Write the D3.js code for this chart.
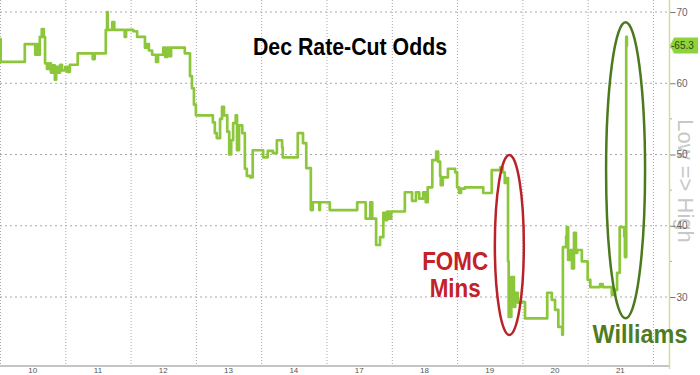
<!DOCTYPE html>
<html>
<head>
<meta charset="utf-8">
<script src="https://cdn.jsdelivr.net/npm/d3@7/dist/d3.min.js"></script>
<style>
  html, body { margin: 0; padding: 0; background: #fff; }
  svg { display: block; }
</style>
</head>
<body>
<svg id="chart" width="700" height="375"></svg>
<script>
// ---- data ----
const dayLabels = ["10", "11", "12", "13", "14", "17", "18", "19", "20", "21"];
const yTicks = [30, 40, 50, 60, 70];
const yMinorTicks = [25, 35, 45, 55, 65];
// time in trading days from the start of Nov 10 (step-after series)
const times = [0.00, 0.01, 0.38, 0.54, 0.57, 0.60, 0.61, 0.64, 0.67, 0.69, 0.72, 0.75, 0.78, 0.81, 0.84, 0.86, 0.89, 0.92, 0.95,
  1.00, 1.03, 1.07, 1.19, 1.42, 1.45, 1.62, 1.64, 1.65, 1.72, 1.75, 1.91, 1.93,
  2.04, 2.10, 2.22, 2.25, 2.28, 2.33, 2.39, 2.42, 2.50, 2.53, 2.56, 2.59, 2.62, 2.83, 2.91, 2.94, 2.97,
  3.00, 3.26, 3.29, 3.32, 3.37, 3.40, 3.43, 3.48, 3.51, 3.54, 3.57, 3.61, 3.63, 3.66, 3.71, 3.75, 3.78, 3.83, 3.87,
  4.03, 4.10, 4.18, 4.24, 4.32, 4.33, 4.56, 4.64, 4.69, 4.76, 4.79, 4.89, 4.90,
  5.05, 5.47, 5.60, 5.67, 5.70, 5.76, 5.82, 5.87, 5.90, 5.93, 5.96, 5.99,
  6.20, 6.31, 6.37, 6.42, 6.48, 6.52, 6.55, 6.62, 6.68, 6.71, 6.74, 6.75, 6.78, 6.86, 6.97,
  7.00, 7.03, 7.06, 7.12, 7.40, 7.53, 7.66, 7.70, 7.73, 7.76, 7.78, 7.79, 7.83, 7.87, 7.89, 7.93, 7.99,
  8.04, 8.38, 8.45, 8.50, 8.55, 8.61, 8.62, 8.67, 8.68, 8.70, 8.73, 8.76, 8.79, 8.82, 8.84, 8.91,
  9.00, 9.04, 9.19, 9.23, 9.37, 9.42, 9.45, 9.49, 9.56, 9.57, 9.59, 9.60, 9.62];
const odds = [66.2, 63.0, 65.5, 64.0, 65.5, 64.0, 66.5, 67.6, 66.5, 62.8, 62.0, 62.8, 61.5, 62.5, 60.5, 62.3, 61.5, 62.6, 61.8,
  62.3, 61.6, 62.6, 64.2, 63.4, 64.2, 67.5, 70.0, 67.5, 68.6, 67.5, 66.5, 67.5,
  67.3, 66.5, 65.0, 65.5, 64.6, 64.0, 63.0, 64.0, 65.0, 63.7, 65.0, 63.8, 65.0, 64.2, 61.0, 59.3, 57.0,
  55.5, 54.5, 53.0, 52.3, 55.0, 56.7, 55.5, 53.2, 50.0, 52.0, 54.4, 55.5, 50.6, 54.1, 53.0, 48.0, 47.0, 46.8, 50.6,
  49.6, 50.5, 50.2, 52.0, 51.0, 49.6, 53.0, 51.6, 48.1, 42.2, 43.3, 42.2, 43.3,
  42.2, 43.3, 41.0, 43.3, 41.0, 37.3, 38.4, 41.8, 40.8, 42.0, 41.0, 42.0,
  44.7, 43.5, 44.7, 43.8, 44.7, 43.3, 45.4, 49.2, 50.4, 49.0, 47.0, 45.7, 46.8, 48.0, 47.5,
  45.4, 44.6, 45.2, 45.4, 44.6, 47.8, 48.2, 47.5, 46.0, 46.7, 35.0, 27.2, 32.8, 28.6, 30.6, 29.2, 29.3,
  27.0, 30.6, 29.6, 28.2, 25.8, 24.7, 37.0, 38.5, 39.8, 35.2, 36.6, 34.0, 39.0, 36.2, 36.6, 35.0,
  32.4, 31.4, 31.8, 31.4, 30.3, 31.0, 33.4, 39.8, 38.5, 35.6, 66.5, 65.3, 65.3];
const lastValue = 65.3;
const titleText = "Dec Rate-Cut Odds";
const axisTitle = "Low => High";
const fomcLines = ["FOMC", "Mins"];
const williamsText = "Williams";

// ---- layout ----
const svg = d3.select("#chart");
const axisX = 669, baseY = 366;
const x = d3.scaleLinear().domain([0, 10.245]).range([0, axisX]);
const y = d3.scaleLinear().domain([30, 70]).range([297, 12]);

// grid
const grid = svg.append("g");
grid.selectAll("line.h").data(yTicks).join("line")
  .attr("x1", 0).attr("x2", axisX)
  .attr("y1", d => y(d)).attr("y2", d => y(d))
  .attr("stroke", "#a8a8a8").attr("stroke-width", 1).attr("stroke-dasharray", "2,3");
grid.selectAll("line.v").data(d3.range(0, 11)).join("line")
  .attr("x1", d => x(d) + 0.5).attr("x2", d => x(d) + 0.5)
  .attr("y1", 0).attr("y2", baseY)
  .attr("stroke", "#a8a8a8").attr("stroke-width", 1).attr("stroke-dasharray", "1,2");

// rotated axis title
svg.append("text")
  .attr("transform", `translate(678,181) rotate(90)`)
  .attr("text-anchor", "middle")
  .attr("font-family", "Liberation Sans, Arial, sans-serif")
  .attr("font-size", 22).attr("fill", "#c8c8c8")
  .text(axisTitle);

// x axis line
svg.append("line").attr("x1", 0).attr("x2", axisX).attr("y1", baseY).attr("y2", baseY)
  .attr("stroke", "#8a8a8a").attr("stroke-width", 1);

// x labels
svg.selectAll("text.day").data(dayLabels).join("text")
  .attr("x", (d, i) => x(i + 0.5)).attr("y", 372.5)
  .attr("text-anchor", "middle")
  .attr("font-family", "Liberation Sans, Arial, sans-serif")
  .attr("font-size", 8).attr("fill", "#555")
  .text(d => d);

// right axis
const yAxis = d3.axisRight(y).tickValues(yTicks).tickSize(6).tickPadding(1).tickFormat(d3.format("d"));
const ya = svg.append("g").attr("transform", `translate(${axisX + 0.5},0)`).call(yAxis);
ya.select(".domain").remove();
ya.selectAll(".tick line").attr("stroke", "#777");
ya.selectAll(".tick text").attr("fill", "#666")
  .attr("font-family", "Liberation Sans, Arial, sans-serif").attr("font-size", 10);
svg.append("g").selectAll("line").data(yMinorTicks).join("line")
  .attr("x1", axisX).attr("x2", axisX + 3)
  .attr("y1", d => y(d)).attr("y2", d => y(d))
  .attr("stroke", "#aaa");
svg.append("line").attr("x1", axisX + 0.5).attr("x2", axisX + 0.5).attr("y1", 0).attr("y2", baseY + 3)
  .attr("stroke", "#d3dc9a").attr("stroke-width", 1.5);

// series
const pts = times.map((t, i) => [t, odds[i]]);
const line = d3.line().x(d => x(d[0])).y(d => y(d[1])).curve(d3.curveStepAfter);
svg.append("path").datum(pts)
  .attr("d", line)
  .attr("fill", "none").attr("stroke", "#8cc63a").attr("stroke-width", 2.7)
  .attr("stroke-linejoin", "round");

// last value label
const ly = y(lastValue);
svg.append("path")
  .attr("d", `M${axisX + 1},${ly} L${axisX + 5},${ly - 8} L698,${ly - 8} L698,${ly + 8} L${axisX + 5},${ly + 8} Z`)
  .attr("fill", "#8fd33c");
svg.append("text").attr("x", axisX + 2).attr("y", ly + 3.5)
  .attr("font-family", "Liberation Sans, Arial, sans-serif").attr("font-size", 10).attr("fill", "#2d4a10")
  .text("-" + lastValue.toFixed(1));

// title
svg.append("text").attr("x", 350).attr("y", 55).attr("text-anchor", "middle")
  .attr("font-family", "Liberation Sans, Arial, sans-serif").attr("font-weight", "bold")
  .attr("font-size", 23.5).attr("fill", "#000")
  .attr("textLength", 194).attr("lengthAdjust", "spacingAndGlyphs")
  .text(titleText);

// FOMC annotation
svg.append("ellipse").attr("cx", x(7.80)).attr("cy", y(37.3)).attr("rx", 14.5).attr("ry", 90)
  .attr("fill", "none").attr("stroke", "#b82228").attr("stroke-width", 2.5);
svg.selectAll("text.fomc").data(fomcLines).join("text")
  .attr("x", x(6.97)).attr("y", (d, i) => y(i === 0 ? 33.8 : 30.0))
  .attr("text-anchor", "middle")
  .attr("font-family", "Liberation Sans, Arial, sans-serif").attr("font-weight", "bold")
  .attr("font-size", 25).attr("fill", "#c42128")
  .attr("textLength", (d, i) => i === 0 ? 66 : 51).attr("lengthAdjust", "spacingAndGlyphs")
  .text(d => d);

// Williams annotation
svg.append("ellipse").attr("cx", x(9.58)).attr("cy", y(47.8)).attr("rx", 19.5).attr("ry", 148)
  .attr("fill", "none").attr("stroke", "#4b791c").attr("stroke-width", 2.5);
svg.append("text").attr("x", x(9.80)).attr("y", 343).attr("text-anchor", "middle")
  .attr("font-family", "Liberation Sans, Arial, sans-serif").attr("font-weight", "bold")
  .attr("font-size", 26).attr("fill", "#4e7c1e")
  .attr("textLength", 95).attr("lengthAdjust", "spacingAndGlyphs")
  .text(williamsText);
</script>
</body>
</html>
